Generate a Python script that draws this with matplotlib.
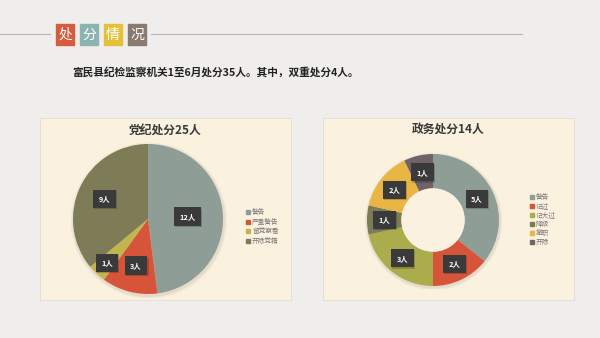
import numpy as np
import matplotlib
matplotlib.use("Agg")
import matplotlib.pyplot as plt
from matplotlib.patches import Rectangle, Circle

plt.rcParams["font.family"] = ["Noto Sans CJK SC", "DejaVu Sans"]

# data
party_labels = ["警告", "严重警告", "留党察看", "开除党籍"]
party_values = [12, 3, 1, 9]
party_colors = ["#8e9e96", "#d6553a", "#c2b54e", "#7e7b57"]

gov_labels = ["警告", "记过", "记大过", "降级", "撤职", "开除"]
gov_values = [5, 2, 3, 1, 2, 1]
gov_colors = ["#8e9e96", "#d6553a", "#abac4c", "#7c7b54", "#e9b644", "#716269"]

header_chars = ["处", "分", "情", "况"]
header_colors = ["#d65b3f", "#8db3b1", "#e5c13a", "#8a7b70"]
subtitle = "富民县纪检监察机关1至6月处分35人。其中，双重处分4人。"

W, H = 600, 338
fig = plt.figure(figsize=(W / 100, H / 100), dpi=100)
fig.patch.set_facecolor("#efeeec")

bg = fig.add_axes([0, 0, 1, 1])
bg.set_xlim(0, W); bg.set_ylim(H, 0); bg.axis("off")

# header
bg.plot([0, 50], [34, 34], color="#b5b5b5", lw=0.8)
bg.plot([151, 522], [34, 34], color="#b5b5b5", lw=0.8)
for i, (ch, c) in enumerate(zip(header_chars, header_colors)):
    x0 = 56 + i * 24
    bg.add_patch(Rectangle((x0, 24), 18, 21, color=c))
    bg.text(x0 + 9, 35, ch, color="white", fontsize=10, ha="center", va="center")
bg.text(72, 72, subtitle, fontsize=7.7, fontweight="bold", color="#222222",
        ha="left", va="center")

# panels
for x0, x1, title, tx in [(40, 291, "党纪处分25人", 165), (323, 574, "政务处分14人", 448)]:
    bg.add_patch(Rectangle((x0, 118), x1 - x0, 182, facecolor="#fbf1df",
                           edgecolor="#e2ddd3", lw=0.6))
    bg.text(tx, 130, title, fontsize=8.5, fontweight="bold", color="#3a3a3a",
            ha="center", va="center")

def pie_axes(cx, cy, r):
    # r is the pie radius in pixels; axes spans +-1.05 r
    h = r * 1.05
    return fig.add_axes([(cx - h) / W, (H - cy - h) / H, 2 * h / W, 2 * h / H])

def put_labels(ax, values, dists):
    total = sum(values)
    start = 90.0
    for v, d in zip(values, dists):
        mid = np.deg2rad(start - v / total * 360 / 2)
        start -= v / total * 360
        x, y = d * np.cos(mid), d * np.sin(mid)
        ax.text(x + 0.015, y - 0.02, f"{v}人", color="none", fontsize=5.3,
                fontweight="bold", ha="center", va="center",
                bbox=dict(boxstyle="square,pad=0.75", fc="#00000030", ec="none"))
        ax.text(x, y, f"{v}人", color="white", fontsize=5.3, fontweight="bold",
                ha="center", va="center",
                bbox=dict(boxstyle="square,pad=0.75", fc="#3a3a3a", ec="none"))

def legend(labels, colors, x, y0, dy):
    for i, (lb, c) in enumerate(zip(labels, colors)):
        y = y0 + i * dy
        bg.add_patch(Rectangle((x - 2, y - 2), 4, 4, color=c))
        bg.text(x + 4, y, lb, fontsize=4.8, color="#7a7a7a", ha="left", va="center")

def shadow(ax):
    for r, a in [(1.04, 0.04), (1.02, 0.05)]:
        ax.add_patch(Circle((0.01, -0.02), r, color="black", alpha=a, lw=0, zorder=0))

# party pie
ax1 = pie_axes(148, 219, 75)
shadow(ax1)
ax1.pie(party_values, colors=party_colors, startangle=90, counterclock=False,
        radius=1, wedgeprops=dict(linewidth=0))
ax1.set_xlim(-1.05, 1.05); ax1.set_ylim(-1.05, 1.05); ax1.set_aspect("equal")
put_labels(ax1, party_values, [0.53, 0.64, 0.8, 0.64])
legend(party_labels, party_colors, 248, 212, 9.7)

# gov donut
ax2 = pie_axes(433, 220, 66)
shadow(ax2)
ax2.pie(gov_values, colors=gov_colors, startangle=90, counterclock=False,
        radius=1, wedgeprops=dict(width=0.52, linewidth=0))
ax2.add_patch(Circle((0, 0), 0.48, color="#fbf1df", lw=0, zorder=5))
ax2.set_xlim(-1.05, 1.05); ax2.set_ylim(-1.05, 1.05); ax2.set_aspect("equal")
put_labels(ax2, gov_values, [0.74] * 6)
legend(gov_labels, gov_colors, 532, 197, 9)

fig.savefig("out.png", dpi=100, facecolor=fig.get_facecolor())
